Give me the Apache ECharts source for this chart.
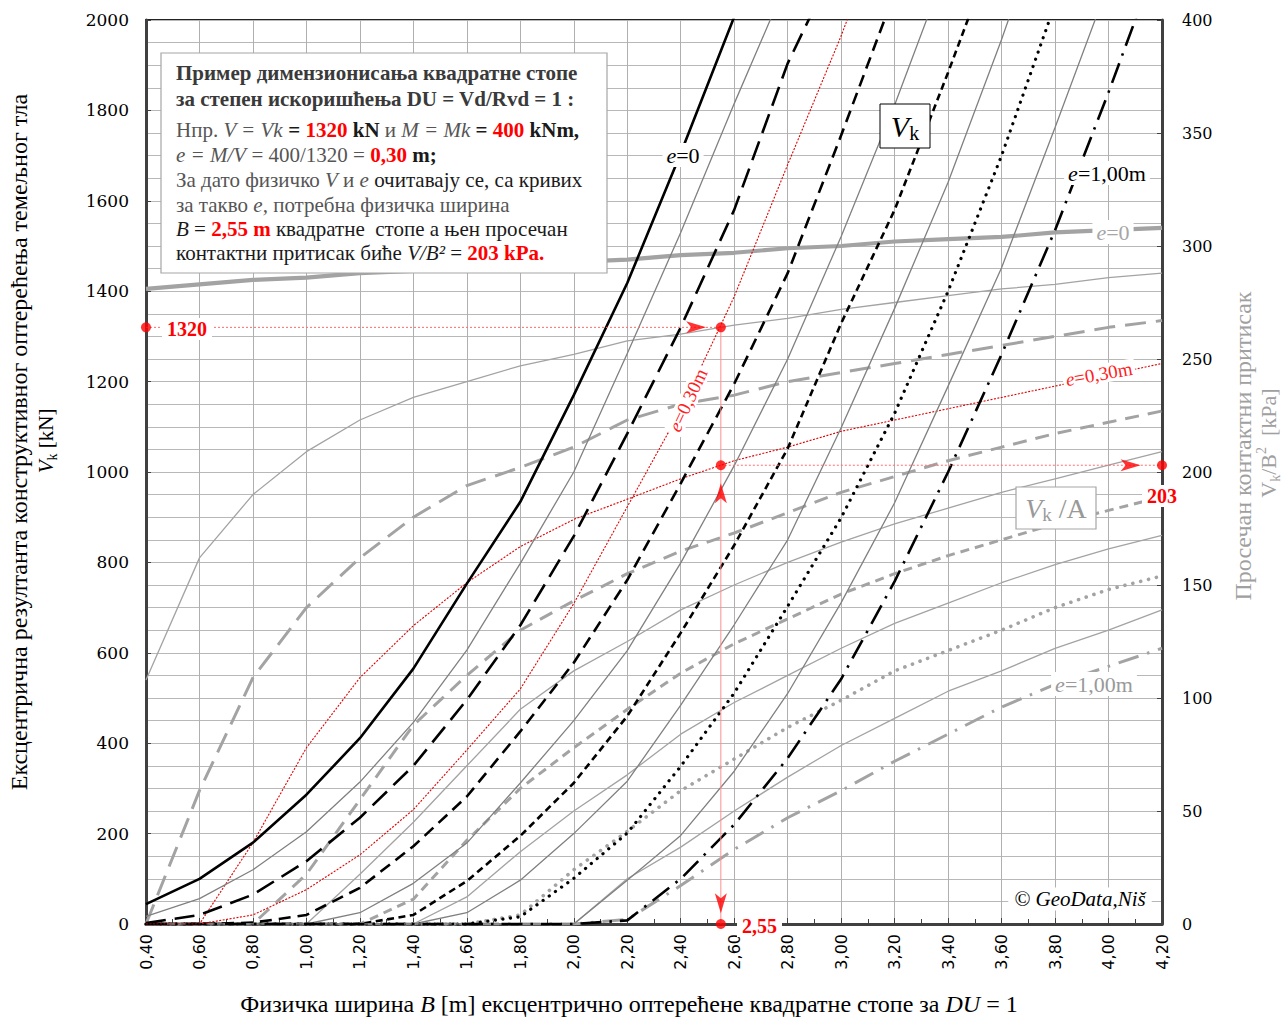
<!DOCTYPE html>
<html><head><meta charset="utf-8">
<script src="https://cdn.jsdelivr.net/npm/echarts@6/dist/echarts.min.js"></script>
<style>html,body{margin:0;padding:0;background:#fff}#c{width:1283px;height:1018px}</style>
</head><body><div id="c"></div>
<script>
// ---- data ----
const B = [0.40,0.60,0.80,1.00,1.20,1.40,1.60,1.80,2.00,2.20,2.40,2.60,2.80,3.00,3.20,3.40,3.60,3.80,4.00,4.20];
const eValues = [0,0.1,0.2,0.3,0.4,0.5,0.6,0.7,0.8,0.9,1.0];
// V_k [kN] (left axis)
const vk_e000 = [44,100,180,286,411,565,753,934,1170,1418,1705,2007];
const vk_e010 = [17,56,120,204,314,446,606,798,1000,1262,1530,1815,2090];
const vk_e020 = [2,20,65,139,235,350,496,661,858,1085,1320,1580,1904,2150];
const vk_e030 = [0,0,20,76,153,253,385,520,709,923,1137,1388,1680,1965,2280];
const vk_e040 = [0,0,3,20,80,172,282,426,578,761,975,1195,1440,1745,2060];
const vk_e050 = [0,0,0,0,25,90,179,312,450,605,799,1014,1250,1521,1812,2127];
const vk_e060 = [0,0,0,0,0,20,95,195,312,460,644,838,1052,1329,1580,1884,2200];
const vk_e070 = [0,0,0,0,0,0,25,97,200,316,484,662,850,1098,1362,1641,1957,2296];
const vk_e080 = [0,0,0,0,0,0,0,16,101,201,349,511,703,899,1130,1400,1700,2035];
const vk_e090 = [0,0,0,0,0,0,0,0,0,97,196,338,510,711,932,1190,1452,1762,2080];
const vk_e100 = [0,0,0,0,0,0,0,0,0,8,100,220,367,542,758,1000,1260,1535,1840,2160];
// V_k/A [kPa] (right axis)
const p_e000 = [281,283,285,286,288,289,290,291,293,294,296,297,299,300,302,303,304,306,307,308];
const p_e010 = [108,162,190,209,223,233,240,247,252,258,261,265,268,272,275,278,281,283,286,288];
const p_e020 = [0,59,109,140,162,180,194,202,211,223,230,234,240,244,248,252,256,260,264,267];
const p_e030 = [0,0,36,78,109,132,151,167,179,188,197,205,211,218,223,228,233,238,243,248];
const p_e040 = [0,0,0,22,55,88,110,130,143,155,165,173,182,191,198,205,211,217,222,227];
const p_e050 = [0,0,0,0,22,45,70,95,112,125,139,150,160,169,177,184,191,197,203,209];
const p_e060 = [0,0,0,0,0,11,37,60,78,95,111,124,135,146,155,163,170,177,183,189];
const p_e070 = [0,0,0,0,0,0,12,32,50,66,84,98,110,122,133,142,151,159,166,172];
const p_e080 = [0,0,0,0,0,0,0,4,24,41,59,73,87,99,112,121,130,140,148,154];
const p_e090 = [0,0,0,0,0,0,0,0,0,20,34,50,65,79,91,103,112,122,130,139];
const p_e100 = [0,0,0,0,0,0,0,0,0,2,17,33,47,59,72,84,96,106,114,122];
// worked example
const exB = 2.55, exV = 1320, exP = 203;
// axes
const xMin = 0.4, xMax = 4.2, xStep = 0.2;
const yLeftMax = 2000, yLeftStep = 200;
const yRightMax = 400, yRightStep = 50;

const vkData = [vk_e000,vk_e010,vk_e020,vk_e030,vk_e040,vk_e050,vk_e060,vk_e070,vk_e080,vk_e090,vk_e100];
const pData  = [p_e000,p_e010,p_e020,p_e030,p_e040,p_e050,p_e060,p_e070,p_e080,p_e090,p_e100];

// ---- styles ----
const BLK = '#000', G1 = '#808080', G2 = '#a3a3a3', RED = '#e00000';
const vkStyle = [
  {c:BLK,w:2.6,t:'solid'},
  {c:G1,w:1.3,t:'solid'},
  {c:BLK,w:2.6,t:[20,9]},
  {c:RED,w:1.1,t:[2,1.5]},
  {c:BLK,w:2.6,t:[12,7]},
  {c:G1,w:1.3,t:'solid'},
  {c:BLK,w:2.6,t:[7,4.5]},
  {c:G1,w:1.3,t:'solid'},
  {c:BLK,w:3.2,t:[0.1,7.5],cap:'round'},
  {c:G1,w:1.3,t:'solid'},
  {c:BLK,w:2.6,t:[21,8,2.5,8]}
];
const pStyle = [
  {c:G2,w:4.2,t:'solid'},
  {c:G2,w:1.3,t:'solid'},
  {c:G2,w:3,t:[21,10]},
  {c:RED,w:1.1,t:[2,1.5]},
  {c:G2,w:3,t:[14,9]},
  {c:G2,w:1.3,t:'solid'},
  {c:G2,w:3,t:[9,6]},
  {c:G2,w:1.3,t:'solid'},
  {c:G2,w:3.6,t:[0.1,8],cap:'round'},
  {c:G2,w:1.3,t:'solid'},
  {c:G2,w:3,t:[21,9,2.5,9]}
];

function lineSeries(name, arr, yIdx, st, z) {
  return {
    name, type:'line', yAxisIndex:yIdx, z,
    data: arr.map((v,i)=>[B[i], v]),
    symbol:'none', silent:true, animation:false, clip:true,
    lineStyle:{color:st.c, width:st.w, type:st.t, cap:st.cap||'butt'}
  };
}
const series = [];
eValues.forEach((e,k)=>{ series.push(lineSeries('p'+e, pData[k], 1, pStyle[k], 3 + (k===3?2:0))); });
eValues.forEach((e,k)=>{ series.push(lineSeries('vk'+e, vkData[k], 0, vkStyle[k], 5 + (k===3?2:0))); });

// worked-example guide lines
const guide = {color:'#ff6b6b', width:1};
series.push({type:'line', yAxisIndex:0, z:8, symbol:'none', silent:true, animation:false, clip:false,
  data:[[xMin,exV],[exB,exV]], lineStyle:{...guide, type:[2,2]}});
series.push({type:'line', yAxisIndex:0, z:8, symbol:'none', silent:true, animation:false, clip:false,
  data:[[exB,exV],[exB,0]], lineStyle:{...guide, type:'solid', color:'#ff9090'}});
series.push({type:'line', yAxisIndex:1, z:8, symbol:'none', silent:true, animation:false, clip:false,
  data:[[exB,exP],[xMax,exP]], lineStyle:{...guide, type:[2,2]}});
series.push({type:'scatter', yAxisIndex:0, z:9, silent:true, animation:false, clip:false,
  symbol:'circle', symbolSize:10, itemStyle:{color:'#ff0000'},
  data:[[xMin,exV],[exB,exV],[exB,0]]});
series.push({type:'scatter', yAxisIndex:1, z:9, silent:true, animation:false, clip:false,
  symbol:'circle', symbolSize:10, itemStyle:{color:'#ff0000'},
  data:[[exB,exP],[xMax,exP]]});
// arrowheads
series.push({type:'scatter', yAxisIndex:0, z:9, silent:true, animation:false, clip:false,
  symbol:'arrow', itemStyle:{color:'#ff0000'},
  data:[
    {value:[exB-0.055,exV], symbolRotate:-90, symbolSize:[9,20]},
    {value:[exB,24], symbolRotate:180, symbolSize:[9,20]}
  ]});
series.push({type:'scatter', yAxisIndex:1, z:9, silent:true, animation:false, clip:false,
  symbol:'arrow', itemStyle:{color:'#ff0000'},
  data:[
    {value:[exB,exP-8], symbolRotate:0, symbolSize:[9,20]},
    {value:[xMax-0.08,exP], symbolRotate:-90, symbolSize:[9,20]}
  ]});

// ---- text annotations ----
const SERIF = 'Liberation Serif';
const GRAY_T = '#555555', DARK_T = '#1a1a1a';
function rs(o){ return Object.assign({fontFamily:SERIF, fontSize:21, fill:GRAY_T}, o); }
const boxRich = {
  h: rs({fontWeight:'bold', fill:'#3a3a3a', fontSize:21}),
  n: rs({}),
  i: rs({fontStyle:'italic'}),
  d: rs({fill:DARK_T}),
  di: rs({fill:DARK_T, fontStyle:'italic'}),
  b: rs({fill:DARK_T, fontWeight:'bold'}),
  r: rs({fill:'#ff0000', fontWeight:'bold'})
};
const boxLines = [
  '{h|Пример димензионисања квадратне стопе}',
  '{h|за степен искоришћења DU = Vd/Rvd = 1 :}',
  '{n|Нпр. }{i|V = Vk}{b| = }{r|1320}{b| kN }{n|и }{i|M = Mk}{b| = }{r|400}{b| kNm,}',
  '{i|e = M/V}{n| = 400/1320 = }{r|0,30}{b| m;}',
  '{n|За дато физичко }{i|V}{n| и }{i|e}{d| очитавају се, са кривих}',
  '{n|за такво }{i|e,}{n| потребна физичка ширина}',
  '{di|B}{d| = }{r|2,55 m}{d| квадратне  стопе а њен просечан}',
  '{d|контактни притисак биће }{di|V/B²}{d| = }{r|203 kPa.}'
];
const boxY = [73, 99, 130, 155, 180, 205, 229, 253];

const graphics = [];
graphics.push({type:'rect', z:100, shape:{x:161,y:53,width:446,height:220},
  style:{fill:'#fff', stroke:'#a6a6a6', lineWidth:1.2}});
boxLines.forEach((t,i)=>graphics.push({type:'text', z:101, x:176, y:boxY[i],
  style:{text:t, rich:boxRich, align:'left', verticalAlign:'middle'}}));

function lbl(x,y,text,rich,extra){
  return {type:'text', z:101, x, y,
    style:Object.assign({text, rich, align:'center', verticalAlign:'middle'}, extra||{})};
}
const lr = (fill,fs)=>({ i:{fontFamily:SERIF,fontSize:fs,fontStyle:'italic',fill}, n:{fontFamily:SERIF,fontSize:fs,fill} });
graphics.push(lbl(683,155,'{i|e}{n|=0}', lr('#000',22), {backgroundColor:'#fff', padding:[1,4]}));
graphics.push(lbl(1107,173,'{i|e}{n|=1,00m}', lr('#000',22), {backgroundColor:'#fff', padding:[1,4]}));
graphics.push(lbl(1113,232,'{i|e}{n|=0}', lr('#a6a6a6',22), {backgroundColor:'#fff', padding:[1,4]}));
graphics.push(lbl(1094,684,'{i|e}{n|=1,00m}', lr('#999',22), {backgroundColor:'#fff', padding:[1,4]}));
graphics.push(Object.assign(lbl(0,0,'{i|e}{n|=0,30m}', lr('#ff2020',19), {backgroundColor:'#fff', padding:[0,3]}), {x:688,y:400,rotation:65*Math.PI/180}));
graphics.push(Object.assign(lbl(0,0,'{i|e}{n|=0,30m}', lr('#ff2020',19), {backgroundColor:'#fff', padding:[0,3]}), {x:1099,y:374,rotation:10*Math.PI/180}));
// V_k box
graphics.push({type:'rect', z:100, shape:{x:880,y:104,width:50,height:44}, style:{fill:'#fff', stroke:'#000', lineWidth:1}});
graphics.push(lbl(905,126,'{v|V}{k|k}', {
  v:{fontFamily:SERIF,fontSize:30,fontStyle:'italic',fill:'#000',lineHeight:34,verticalAlign:'middle'},
  k:{fontFamily:SERIF,fontSize:20,fill:'#000',lineHeight:20,verticalAlign:'bottom'}}));
// V_k/A box
graphics.push({type:'rect', z:100, shape:{x:1016,y:487,width:80,height:42}, style:{fill:'#fff', stroke:'#a6a6a6', lineWidth:1.2}});
graphics.push(lbl(1056,508,'{v|V}{k|k}{n| /A}', {
  v:{fontFamily:SERIF,fontSize:28,fontStyle:'italic',fill:'#999',lineHeight:32,verticalAlign:'middle'},
  k:{fontFamily:SERIF,fontSize:19,fill:'#999',lineHeight:19,verticalAlign:'bottom'},
  n:{fontFamily:SERIF,fontSize:28,fill:'#999',lineHeight:32,verticalAlign:'middle'}}));
graphics.push(lbl(1080,899,'© GeoData,Niš', null, {fontFamily:SERIF, fontSize:21, fontStyle:'italic', fill:'#000', backgroundColor:'#fff', padding:[1,6]}));
// red value labels
const redLab = {fontFamily:SERIF, fontSize:20, fontWeight:'bold', fill:'#ff0000', backgroundColor:'#fff', padding:[1,5]};
graphics.push({type:'text', z:101, x:162, y:329, style:Object.assign({text:String(exV), align:'left', verticalAlign:'middle'}, redLab)});
graphics.push({type:'text', z:101, x:737, y:926, style:Object.assign({text:String(exB).replace('.',','), align:'left', verticalAlign:'middle'}, redLab)});
graphics.push({type:'text', z:101, x:1162, y:496, style:Object.assign({text:String(exP), align:'center', verticalAlign:'middle'}, redLab)});
// axis titles
const tRich = (fill,fs)=>({
  n:{fontFamily:SERIF,fontSize:fs,fill,lineHeight:fs+6,verticalAlign:'middle'},
  i:{fontFamily:SERIF,fontSize:fs,fill,fontStyle:'italic',lineHeight:fs+6,verticalAlign:'middle'},
  s:{fontFamily:SERIF,fontSize:Math.round(fs*0.65),fill,lineHeight:Math.round(fs*0.65),verticalAlign:'bottom'},
  p:{fontFamily:SERIF,fontSize:Math.round(fs*0.65),fill,lineHeight:Math.round(fs*0.65),verticalAlign:'top'}
});
graphics.push({type:'text', z:101, x:19, y:442, rotation:Math.PI/2,
  style:{text:'{n|Ексцентрична резултанта конструктивног оптерећења темељног тла}', rich:tRich('#000',24), align:'center', verticalAlign:'middle'}});
graphics.push({type:'text', z:101, x:46, y:441, rotation:Math.PI/2,
  style:{text:'{i|V}{s|k}{n| [kN]}', rich:tRich('#000',21), align:'center', verticalAlign:'middle'}});
graphics.push({type:'text', z:101, x:1243, y:446, rotation:Math.PI/2,
  style:{text:'{n|Просечан контактни притисак}', rich:tRich('#a0a0a0',24), align:'center', verticalAlign:'middle'}});
graphics.push({type:'text', z:101, x:1268, y:443, rotation:Math.PI/2,
  style:{text:'{n|V}{s|k}{n|/B}{p|2}{n|  [kPa]}', rich:tRich('#a0a0a0',22), align:'center', verticalAlign:'middle'}});
graphics.push({type:'text', z:101, x:629, y:1004,
  style:{text:'{n|Физичка ширина }{i|B}{n| [m] ексцентрично оптерећене квадратне стопе за }{i|DU}{n| = 1}', rich:tRich('#000',24), align:'center', verticalAlign:'middle'}});

const chart = echarts.init(document.getElementById('c'), null, {renderer:'svg'});
chart.setOption({
  animation:false,
  backgroundColor:'#fff',
  grid:{left:146, right:121, top:20, bottom:94, show:true, borderColor:'#222', borderWidth:2},
  xAxis:{type:'value', min:xMin, max:xMax, interval:xStep,
    axisLine:{show:true, onZero:false, lineStyle:{color:'#404040', width:3}},
    axisTick:{show:true, inside:true, length:6, lineStyle:{color:'#404040'}},
    minorTick:{show:true, splitNumber:2, length:5, lineStyle:{color:'#404040'}},
    axisLabel:{rotate:90, margin:10, fontFamily:'DejaVu Sans', fontSize:16, color:'#000',
      formatter:v=>v.toFixed(2).replace('.',',')},
    splitLine:{show:true, lineStyle:{color:'#b0b0b0', width:1}}},
  yAxis:[
    {type:'value', min:0, max:yLeftMax, interval:yLeftStep, position:'left',
      axisLine:{show:true, lineStyle:{color:'#404040', width:3}},
      axisTick:{show:true, inside:true, length:5, lineStyle:{color:'#404040'}},
      axisLabel:{fontFamily:'DejaVu Serif', fontSize:17, color:'#000', margin:17, formatter:v=>String(v)},
      splitLine:{show:true, lineStyle:{color:'#b8b8b8', width:1}},
      minorTick:{show:false, splitNumber:4},
      minorSplitLine:{show:true, lineStyle:{color:'#b8b8b8', width:1}}},
    {type:'value', min:0, max:yRightMax, interval:yRightStep, position:'right',
      axisLine:{show:true, lineStyle:{color:'#404040', width:3}},
      axisTick:{show:true, inside:true, length:5, lineStyle:{color:'#404040'}},
      axisLabel:{fontFamily:'DejaVu Serif', fontSize:16, color:'#000', margin:20, formatter:v=>String(v)},
      splitLine:{show:false}}
  ],
  series,
  graphic:graphics
});
</script>
</body></html>
